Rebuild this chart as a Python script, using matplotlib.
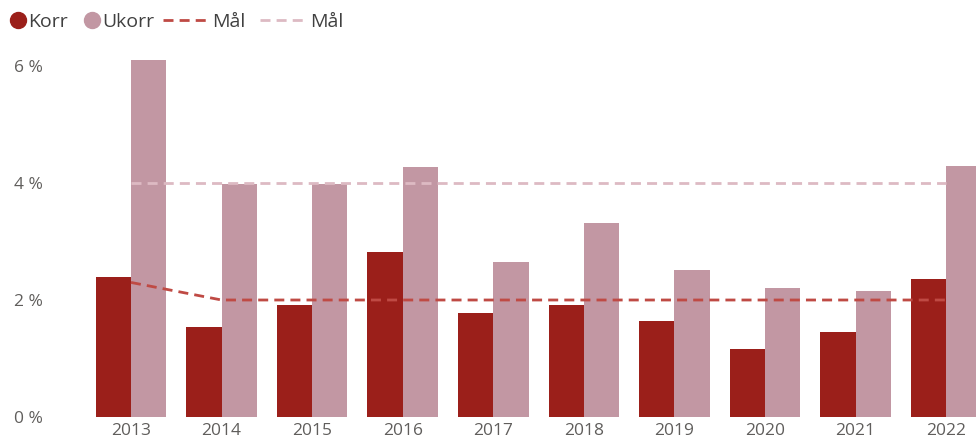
import matplotlib
matplotlib.use("Agg")
import matplotlib.pyplot as plt
from matplotlib.lines import Line2D
import numpy as np

years = ["2013", "2014", "2015", "2016", "2017", "2018", "2019", "2020", "2021", "2022"]
korr = [2.39, 1.54, 1.91, 2.82, 1.78, 1.91, 1.64, 1.16, 1.45, 2.36]
ukorr = [6.11, 3.99, 3.99, 4.27, 2.65, 3.32, 2.51, 2.20, 2.15, 4.29]
maal_korr = [2.3, 2.0, 2.0, 2.0, 2.0, 2.0, 2.0, 2.0, 2.0, 2.0]
maal_ukorr = [4.0, 4.0, 4.0, 4.0, 4.0, 4.0, 4.0, 4.0, 4.0, 4.0]
yticks = [0, 2, 4, 6]
ytick_labels = ["0 %", "2 %", "4 %", "6 %"]

c_korr = "#9B1F1A"
c_ukorr = "#C297A3"
c_mk = "#BF4A44"
c_mu = "#DDBAC3"
txt = "#605E5C"
dash = (3.6, 2.2)

plt.rcParams['font.family'] = ['Open Sans', 'DejaVu Sans']

W, H = 976, 447
fig = plt.figure(figsize=(W / 100, H / 100), dpi=100)
ax_left = 85.7 / W
ax_bottom = 30 / H
ax_top = 54.3 / H
ax = fig.add_axes([ax_left, ax_bottom, 1 - ax_left, 1 - ax_bottom - ax_top])

x = np.arange(len(years))
bw = 0.39
ax.bar(x - bw / 2, korr, bw, color=c_korr, zorder=2)
ax.bar(x + bw / 2, ukorr, bw, color=c_ukorr, zorder=2)
ax.plot(x, maal_korr, color=c_mk, lw=2, dashes=dash, zorder=3)
ax.plot(x, maal_ukorr, color=c_mu, lw=2, dashes=dash, zorder=3)

ax.set_xlim(-0.5, 9.33)
ax.set_ylim(0, 6.2)
ax.set_xticks(x)
ax.set_xticklabels(years)
ax.set_yticks(yticks)
ax.set_yticklabels(ytick_labels)
for s in ax.spines.values():
    s.set_visible(False)
ax.tick_params(axis='both', length=0, colors=txt, labelsize=12.5)
ax.tick_params(axis='y', pad=31)
ax.tick_params(axis='x', pad=4)

h1 = [Line2D([], [], marker='o', ls='none', color=c_korr, markersize=11.5),
      Line2D([], [], marker='o', ls='none', color=c_ukorr, markersize=11.5)]
leg1 = fig.legend(h1, ["Korr", "Ukorr"], loc='center left', bbox_to_anchor=(9 / W, 1 - 22 / H),
                  ncol=2, frameon=False, handlelength=0.9, handletextpad=0.1,
                  columnspacing=0.75, fontsize=14, borderaxespad=0, borderpad=0.0)
for t in leg1.get_texts():
    t.set_color("#404040")
h2 = [Line2D([], [], color=c_mk, lw=2, dashes=dash),
      Line2D([], [], color=c_mu, lw=2, dashes=dash)]
leg2 = fig.legend(h2, ["Mål", "Mål"], loc='center left', bbox_to_anchor=(163 / W, 1 - 22 / H),
                  ncol=2, frameon=False, handlelength=2.45, handletextpad=0.1,
                  columnspacing=0.75, fontsize=14, borderaxespad=0, borderpad=0.0)
for t in leg2.get_texts():
    t.set_color("#404040")

fig.savefig("out.png", dpi=100)
